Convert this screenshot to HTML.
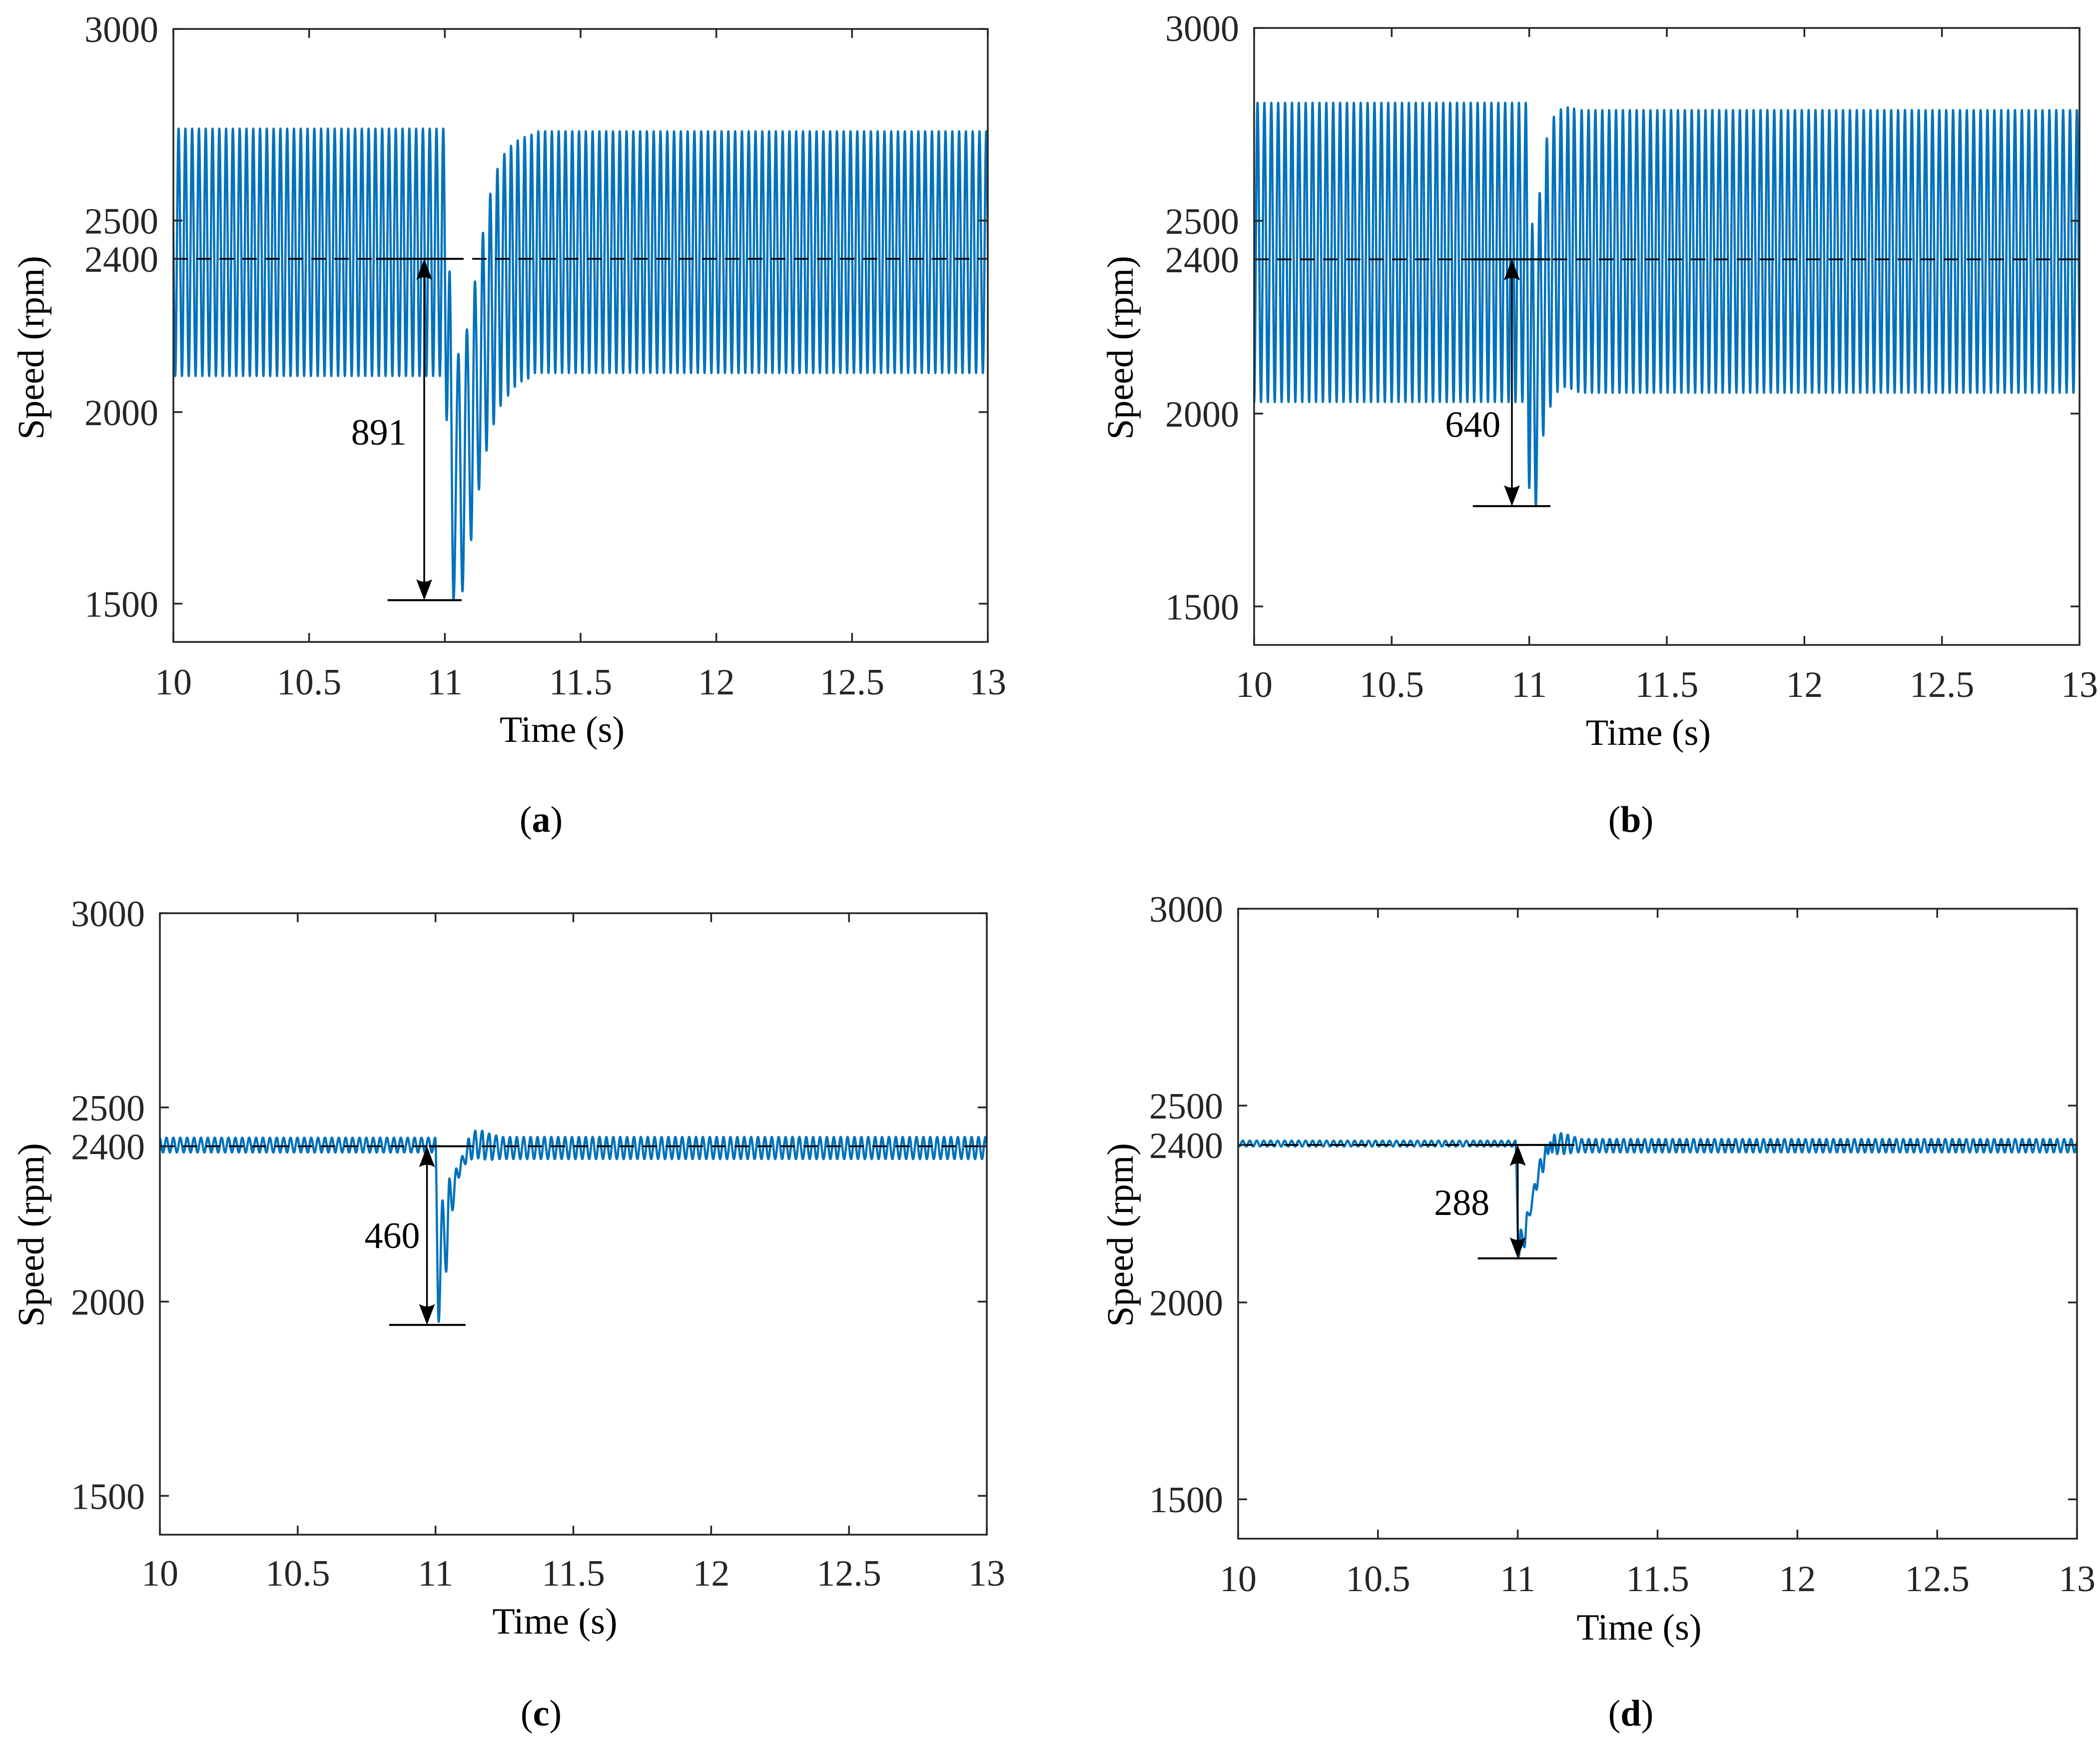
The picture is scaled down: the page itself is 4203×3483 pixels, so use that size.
<!DOCTYPE html>
<html><head><meta charset="utf-8"><style>
html,body{margin:0;padding:0;background:#fff;}
svg{display:block;}
svg text{font-family:"Liberation Serif","Times New Roman","DejaVu Serif",serif;}
</style></head><body>
<svg id="fig" width="4203" height="3483" viewBox="0 0 4203 3483" xmlns="http://www.w3.org/2000/svg" font-family="Liberation Serif, Times New Roman, DejaVu Serif, serif">
<rect width="4203" height="3483" fill="#fff"/>
</svg>
<script>
// ---- data ----
const panelIds = ['a','b','c','d'];
const xTicks = [10, 10.5, 11, 11.5, 12, 12.5, 13];
const xTickLabels = ['10','10.5','11','11.5','12','12.5','13'];
const yTicks = [1500, 2000, 2400, 2500, 3000];
const yTickLabels = ['1500','2000','2400','2500','3000'];
const preHi = [2740, 2806, 2422, 2411];
const preLo = [2094, 2030, 2384, 2396];
const postHi = [2733, 2787, 2424, 2415];
const postLo = [2102, 2054, 2367, 2381];
const transT_a = [11.0067,11.0173,11.0321,11.0501,11.0649,11.0813,11.0969,11.1109,11.1257,11.1404,11.1535,11.1675,11.1798,11.1938,11.2053,11.2192,11.2331,11.2438,11.2577,11.2684,11.2824,11.2939,11.307,11.3193];
const transV_a = [1979,2367,1511,2152,1532,2216,1666,2341,1798,2468,1899,2570,1968,2635,2016,2674,2043,2695,2066,2709,2080,2718,2087,2724];
const transT_b = [11.000,11.011,11.024,11.038,11.051,11.064,11.077,11.0895,11.1027,11.115,11.129,11.140,11.153,11.163,11.178];
const transV_b = [1807,2492,1762,2572,1943,2714,2018,2770,2056,2789,2069,2794,2064,2791,2056];
const transT_c = [11.0115,11.0253,11.0386,11.0505,11.0614,11.0752,11.0842,11.0974,11.1082,11.1203,11.1306,11.1443,11.1546,11.1696,11.1786,11.195,11.205,11.22];
const transV_c = [1948,2261,2077,2317,2235,2343,2319,2375,2354,2420,2366,2440,2369,2440,2366,2433,2365,2428];
const transT_d = [11.004,11.011,11.024,11.034,11.043,11.061,11.067,11.081,11.090,11.101,11.108,11.117,11.123,11.131,11.141,11.155,11.165,11.179,11.189,11.204];
const transV_d = [2117,2185,2140,2229,2221,2301,2286,2364,2331,2400,2377,2407,2381,2426,2377,2430,2377,2426,2379,2420];
const dropValues = [891, 640, 460, 288];
const refSpeed = 2400;
const oscFreq = 40;
// ---- layout ----
const boxes = [
  {L:347,R:1977,T:58,B:1285, xl:1364, tt:1459, cap:1639, yl:61, ylc:696, capx:1083},
  {L:2510,R:4162,T:56,B:1291, xl:1369, tt:1465, cap:1639, yl:2241, ylc:696, capx:3264},
  {L:320,R:1975,T:1828,B:3072, xl:3148, tt:3244, cap:3428, yl:61, ylc:2472, capx:1083},
  {L:2478,R:4157,T:1819,B:3080, xl:3159, tt:3256, cap:3428, yl:2241, ylc:2472, capx:3264}
];
const annot = [
  {t0:10.746,t1:11.067,b0:10.789,b1:11.062,ta:10.924,lt:10.757,lv:1949},
  {t0:10.795,t1:11.077,b0:10.795,b1:11.077,ta:10.937,lt:10.795,lv:1973},
  {t0:10.976,t1:11.109,b0:10.832,b1:11.109,ta:10.969,lt:10.843,lv:2172},
  {t0:10.857,t1:11.165,b0:10.857,b1:11.140,ta:11.0,lt:10.800,lv:2255}
];
const transT = [transT_a, transT_b, transT_c, transT_d];
const transV = [transV_a, transV_b, transV_c, transV_d];
const NS = 'http://www.w3.org/2000/svg';
const svg = document.getElementById('fig');
const FF = 'Liberation Serif, Times New Roman, DejaVu Serif, serif';
function mk(tag, attrs, parent){const e=document.createElementNS(NS,tag);for(const k in attrs)e.setAttribute(k,attrs[k]);if(tag==='text')e.setAttribute('font-family',FF);(parent||svg).appendChild(e);return e;}
const FS = 74;
panelIds.forEach((pid, i) => {
  const b = boxes[i];
  const xs = t => b.L + (t-10)/3*(b.R-b.L);
  const ys = v => b.B - (v-1400)/1600*(b.B-b.T);
  const g = mk('g',{});
  
  
  const defs = mk('defs',{},g);
  const cp = mk('clipPath',{id:'clip'+pid},defs);
  mk('rect',{x:b.L,y:b.T,width:b.R-b.L,height:b.B-b.T},cp);
  const half = 0.5/oscFreq;
  const T = transT[i], V = transV[i];
  const pts = [];
  let t = T[0]-half, hi = true;
  const pre = [];
  while (t > 10 - half*2) { pre.unshift([t, hi?preHi[i]:preLo[i]]); hi=!hi; t-=half; }
  pts.push(...pre);
  for (let k=0;k<T.length;k++) pts.push([T[k],V[k]]);
  let lastHigh = V[V.length-1] > V[V.length-2];
  t = T[T.length-1]+half; hi = !lastHigh;
  while (t < 13 + half*2) { pts.push([t, hi?postHi[i]:postLo[i]]); hi=!hi; t+=half; }
  let d = 'M'+xs(pts[0][0]).toFixed(2)+','+ys(pts[0][1]).toFixed(2);
  for (let k=1;k<pts.length;k++){
    const x0=xs(pts[k-1][0]), y0=ys(pts[k-1][1]), x1=xs(pts[k][0]), y1=ys(pts[k][1]);
    const dx=(x1-x0)*0.36;
    d+=' C'+(x0+dx).toFixed(2)+','+y0.toFixed(2)+' '+(x1-dx).toFixed(2)+','+y1.toFixed(2)+' '+x1.toFixed(2)+','+y1.toFixed(2);
  }
  const series = mk('path',{d:d,fill:'none',stroke:'#0072BD','stroke-width':4.5,'clip-path':'url(#clip'+pid+')','stroke-linejoin':'round'},g);
  
  
  const ref = mk('line',{x1:b.L,x2:b.R,y1:ys(refSpeed),y2:ys(refSpeed),stroke:'#000','stroke-width':3.5,'stroke-dasharray':'29 17'},g);
  
  
  const a = annot[i];
  const an = mk('g',{stroke:'#000','stroke-width':4},g);
  
  
  const lowV = refSpeed - dropValues[i];
  mk('line',{x1:xs(a.t0),x2:xs(a.t1),y1:ys(refSpeed),y2:ys(refSpeed)},an);
  mk('line',{x1:xs(a.b0),x2:xs(a.b1),y1:ys(lowV),y2:ys(lowV)},an);
  const ax = xs(a.ta), yTop = ys(refSpeed), yBot = ys(lowV);
  mk('line',{x1:ax,x2:ax,y1:yTop+30,y2:yBot-30,'stroke-width':3.5},an);
  mk('path',{d:`M${ax},${yTop} L${ax-16},${yTop+42} Q${ax},${yTop+32} ${ax+16},${yTop+42} Z`,fill:'#000',stroke:'none'},an);
  mk('path',{d:`M${ax},${yBot} L${ax-16},${yBot-42} Q${ax},${yBot-32} ${ax+16},${yBot-42} Z`,fill:'#000',stroke:'none'},an);
  const lbl = mk('text',{x:xs(a.lt),y:ys(a.lv)+26,'text-anchor':'middle','font-size':FS,fill:'#000'},g);
  lbl.textContent = String(dropValues[i]);
  
  
  const box = mk('rect',{x:b.L,y:b.T,width:b.R-b.L,height:b.B-b.T,fill:'none',stroke:'#262626','stroke-width':3.5},g);
  
  
  xTicks.forEach((tv, k) => {
    const x = xs(tv);
    mk('line',{x1:x,x2:x,y1:b.B,y2:b.B-18,stroke:'#262626','stroke-width':3.5},g);
    mk('line',{x1:x,x2:x,y1:b.T,y2:b.T+18,stroke:'#262626','stroke-width':3.5},g);
    const tl = mk('text',{x:x,y:b.xl+26,'text-anchor':'middle','font-size':FS,fill:'#262626'},g);
    tl.textContent = xTickLabels[k];
    
    
  });
  yTicks.forEach((v, k) => {
    const y = ys(v);
    mk('line',{x1:b.L,x2:b.L+18,y1:y,y2:y,stroke:'#262626','stroke-width':3.5},g);
    mk('line',{x1:b.R,x2:b.R-18,y1:y,y2:y,stroke:'#262626','stroke-width':3.5},g);
    const tl = mk('text',{x:b.L-30,y:y+26,'text-anchor':'end','font-size':FS,fill:'#262626'},g);
    tl.textContent = yTickLabels[k];
    
    
  });
  const xt = mk('text',{x:(b.L+b.R)/2-37,y:b.tt+26,'text-anchor':'middle','font-size':FS,fill:'#000'},g);
  xt.textContent = 'Time (s)';
  
  
  const yt = mk('text',{x:0,y:0,'text-anchor':'middle','font-size':FS,fill:'#000',transform:`translate(${b.yl+26},${b.ylc}) rotate(-90)`},g);
  yt.textContent = 'Speed (rpm)';
  
  
  const cap = mk('text',{x:b.capx,y:b.cap+26,'text-anchor':'middle','font-size':FS,fill:'#000'},g);
  cap.innerHTML = '(<tspan font-weight="bold">'+pid+'</tspan>)';
  
  
});
</script>
</body></html>
